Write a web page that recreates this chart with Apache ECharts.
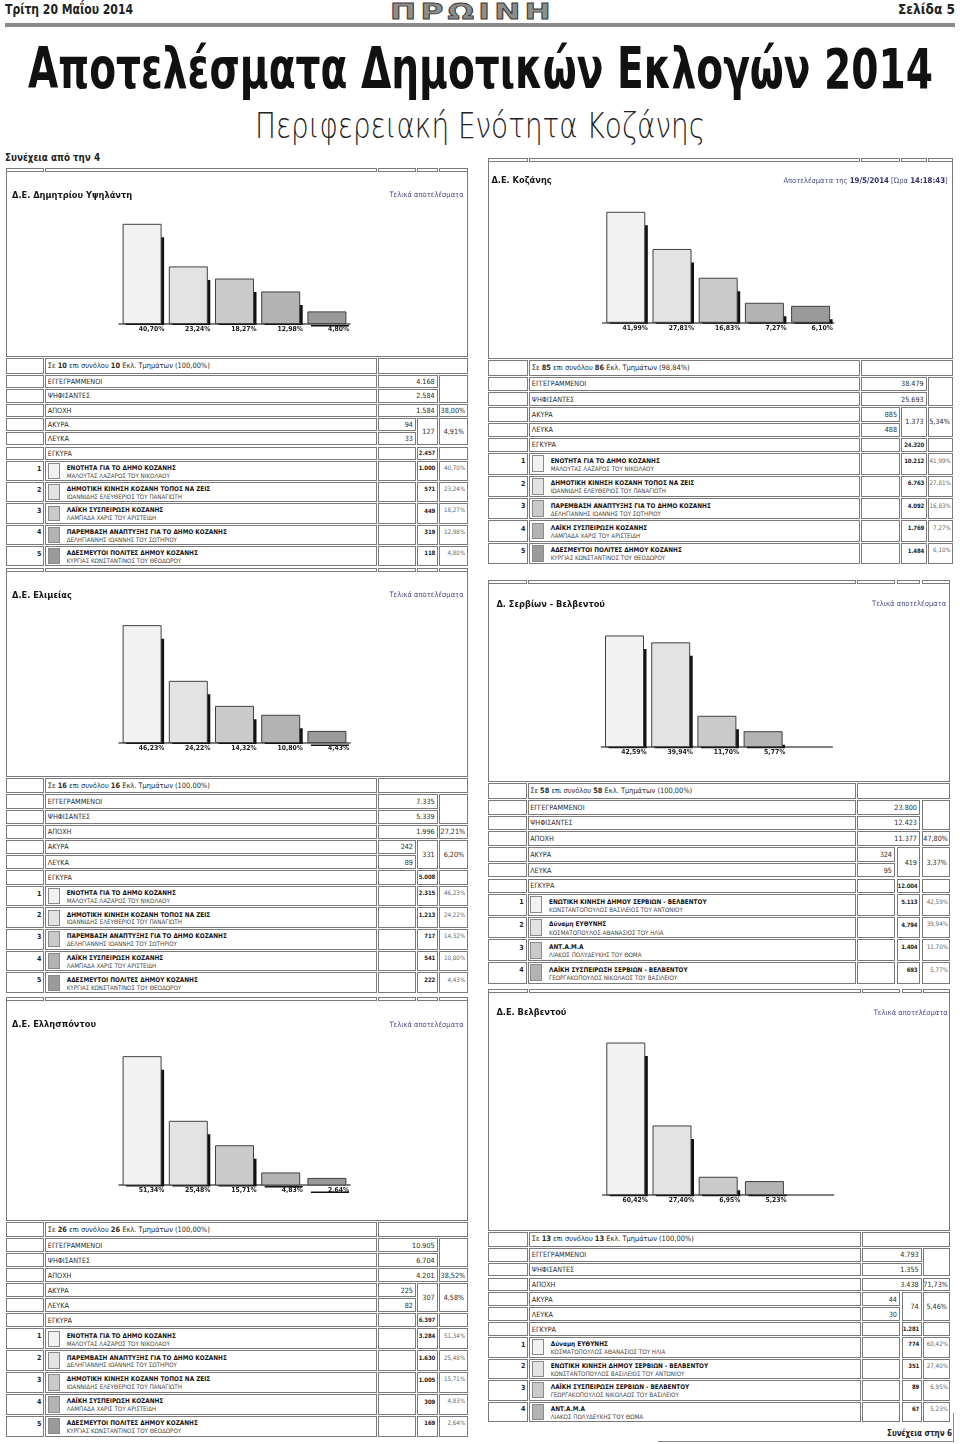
<!DOCTYPE html>
<html><head><meta charset="utf-8">
<script src="https://cdn.jsdelivr.net/npm/echarts@6/dist/echarts.min.js"></script>
<style>
html,body{margin:0;padding:0;background:#fff;}
body{width:960px;height:1444px;position:relative;overflow:hidden;font-family:'DejaVu Sans Condensed','DejaVu Sans',sans-serif;color:#2a2a2a;}
</style></head><body>
<script>
// ================= DATA =================
// Δ.Ε. Δημητρίου Υψηλάντη
const ypsParties = ['ΕΝΟΤΗΤΑ ΓΙΑ ΤΟ ΔΗΜΟ ΚΟΖΑΝΗΣ','ΔΗΜΟΤΙΚΗ ΚΙΝΗΣΗ ΚΟΖΑΝΗ ΤΟΠΟΣ ΝΑ ΖΕΙΣ','ΛΑΪΚΗ ΣΥΣΠΕΙΡΩΣΗ ΚΟΖΑΝΗΣ','ΠΑΡΕΜΒΑΣΗ ΑΝΑΠΤΥΞΗΣ ΓΙΑ ΤΟ ΔΗΜΟ ΚΟΖΑΝΗΣ','ΑΔΕΣΜΕΥΤΟΙ ΠΟΛΙΤΕΣ ΔΗΜΟΥ ΚΟΖΑΝΗΣ'];
const ypsLeaders = ['ΜΑΛΟΥΤΑΣ ΛΑΖΑΡΟΣ ΤΟΥ ΝΙΚΟΛΑΟΥ','ΙΩΑΝΝΙΔΗΣ ΕΛΕΥΘΕΡΙΟΣ ΤΟΥ ΠΑΝΑΓΙΩΤΗ','ΛΑΜΠΑΔΑ ΧΑΡΙΣ ΤΟΥ ΑΡΙΣΤΕΙΔΗ','ΔΕΛΗΓΙΑΝΝΗΣ ΙΩΑΝΝΗΣ ΤΟΥ ΣΩΤΗΡΙΟΥ','ΚΥΡΓΙΑΣ ΚΩΝΣΤΑΝΤΙΝΟΣ ΤΟΥ ΘΕΟΔΩΡΟΥ'];
const ypsVotes = [1000, 571, 449, 319, 118];
const ypsPct = [40.70, 23.24, 18.27, 12.98, 4.80];
const ypsStations = [10, 10, 100.00];
const ypsTurnout = [4168, 2584, 1584, 38.00];      // εγγεγραμμένοι, ψηφίσαντες, αποχή, αποχή %
const ypsSpoilt = [94, 33, 127, 4.91, 2457];       // άκυρα, λευκά, σύνολο, %, έγκυρα

// Δ.Ε. Κοζάνης
const kozParties = ['ΕΝΟΤΗΤΑ ΓΙΑ ΤΟ ΔΗΜΟ ΚΟΖΑΝΗΣ','ΔΗΜΟΤΙΚΗ ΚΙΝΗΣΗ ΚΟΖΑΝΗ ΤΟΠΟΣ ΝΑ ΖΕΙΣ','ΠΑΡΕΜΒΑΣΗ ΑΝΑΠΤΥΞΗΣ ΓΙΑ ΤΟ ΔΗΜΟ ΚΟΖΑΝΗΣ','ΛΑΪΚΗ ΣΥΣΠΕΙΡΩΣΗ ΚΟΖΑΝΗΣ','ΑΔΕΣΜΕΥΤΟΙ ΠΟΛΙΤΕΣ ΔΗΜΟΥ ΚΟΖΑΝΗΣ'];
const kozLeaders = ['ΜΑΛΟΥΤΑΣ ΛΑΖΑΡΟΣ ΤΟΥ ΝΙΚΟΛΑΟΥ','ΙΩΑΝΝΙΔΗΣ ΕΛΕΥΘΕΡΙΟΣ ΤΟΥ ΠΑΝΑΓΙΩΤΗ','ΔΕΛΗΓΙΑΝΝΗΣ ΙΩΑΝΝΗΣ ΤΟΥ ΣΩΤΗΡΙΟΥ','ΛΑΜΠΑΔΑ ΧΑΡΙΣ ΤΟΥ ΑΡΙΣΤΕΙΔΗ','ΚΥΡΓΙΑΣ ΚΩΝΣΤΑΝΤΙΝΟΣ ΤΟΥ ΘΕΟΔΩΡΟΥ'];
const kozVotes = [10212, 6763, 4092, 1769, 1484];
const kozPct = [41.99, 27.81, 16.83, 7.27, 6.10];
const kozStations = [85, 86, 98.84];
const kozTurnout = [38479, 25693, null, null];
const kozSpoilt = [885, 488, 1373, 5.34, 24320];

// Δ.Ε. Ελιμείας
const elmParties = ['ΕΝΟΤΗΤΑ ΓΙΑ ΤΟ ΔΗΜΟ ΚΟΖΑΝΗΣ','ΔΗΜΟΤΙΚΗ ΚΙΝΗΣΗ ΚΟΖΑΝΗ ΤΟΠΟΣ ΝΑ ΖΕΙΣ','ΠΑΡΕΜΒΑΣΗ ΑΝΑΠΤΥΞΗΣ ΓΙΑ ΤΟ ΔΗΜΟ ΚΟΖΑΝΗΣ','ΛΑΪΚΗ ΣΥΣΠΕΙΡΩΣΗ ΚΟΖΑΝΗΣ','ΑΔΕΣΜΕΥΤΟΙ ΠΟΛΙΤΕΣ ΔΗΜΟΥ ΚΟΖΑΝΗΣ'];
const elmLeaders = ['ΜΑΛΟΥΤΑΣ ΛΑΖΑΡΟΣ ΤΟΥ ΝΙΚΟΛΑΟΥ','ΙΩΑΝΝΙΔΗΣ ΕΛΕΥΘΕΡΙΟΣ ΤΟΥ ΠΑΝΑΓΙΩΤΗ','ΔΕΛΗΓΙΑΝΝΗΣ ΙΩΑΝΝΗΣ ΤΟΥ ΣΩΤΗΡΙΟΥ','ΛΑΜΠΑΔΑ ΧΑΡΙΣ ΤΟΥ ΑΡΙΣΤΕΙΔΗ','ΚΥΡΓΙΑΣ ΚΩΝΣΤΑΝΤΙΝΟΣ ΤΟΥ ΘΕΟΔΩΡΟΥ'];
const elmVotes = [2315, 1213, 717, 541, 222];
const elmPct = [46.23, 24.22, 14.32, 10.80, 4.43];
const elmStations = [16, 16, 100.00];
const elmTurnout = [7335, 5339, 1996, 27.21];
const elmSpoilt = [242, 89, 331, 6.20, 5008];

// Δ. Σερβίων - Βελβεντού
const srvParties = ['ΕΝΩΤΙΚΗ ΚΙΝΗΣΗ ΔΗΜΟΥ ΣΕΡΒΙΩΝ - ΒΕΛΒΕΝΤΟΥ','Δύναμη ΕΥΘΥΝΗΣ','ΑΝΤ.Α.Μ.Α','ΛΑΪΚΗ ΣΥΣΠΕΙΡΩΣΗ ΣΕΡΒΙΩΝ - ΒΕΛΒΕΝΤΟΥ'];
const srvLeaders = ['ΚΩΝΣΤΑΝΤΟΠΟΥΛΟΣ ΒΑΣΙΛΕΙΟΣ ΤΟΥ ΑΝΤΩΝΙΟΥ','ΚΟΣΜΑΤΟΠΟΥΛΟΣ ΑΘΑΝΑΣΙΟΣ ΤΟΥ ΗΛΙΑ','ΛΙΑΚΟΣ ΠΟΛΥΔΕΥΚΗΣ ΤΟΥ ΘΩΜΑ','ΓΕΩΡΓΑΚΟΠΟΥΛΟΣ ΝΙΚΟΛΑΟΣ ΤΟΥ ΒΑΣΙΛΕΙΟΥ'];
const srvVotes = [5113, 4794, 1404, 693];
const srvPct = [42.59, 39.94, 11.70, 5.77];
const srvStations = [58, 58, 100.00];
const srvTurnout = [23800, 12423, 11377, 47.80];
const srvSpoilt = [324, 95, 419, 3.37, 12004];

// Δ.Ε. Ελλησπόντου
const elsParties = ['ΕΝΟΤΗΤΑ ΓΙΑ ΤΟ ΔΗΜΟ ΚΟΖΑΝΗΣ','ΠΑΡΕΜΒΑΣΗ ΑΝΑΠΤΥΞΗΣ ΓΙΑ ΤΟ ΔΗΜΟ ΚΟΖΑΝΗΣ','ΔΗΜΟΤΙΚΗ ΚΙΝΗΣΗ ΚΟΖΑΝΗ ΤΟΠΟΣ ΝΑ ΖΕΙΣ','ΛΑΪΚΗ ΣΥΣΠΕΙΡΩΣΗ ΚΟΖΑΝΗΣ','ΑΔΕΣΜΕΥΤΟΙ ΠΟΛΙΤΕΣ ΔΗΜΟΥ ΚΟΖΑΝΗΣ'];
const elsLeaders = ['ΜΑΛΟΥΤΑΣ ΛΑΖΑΡΟΣ ΤΟΥ ΝΙΚΟΛΑΟΥ','ΔΕΛΗΓΙΑΝΝΗΣ ΙΩΑΝΝΗΣ ΤΟΥ ΣΩΤΗΡΙΟΥ','ΙΩΑΝΝΙΔΗΣ ΕΛΕΥΘΕΡΙΟΣ ΤΟΥ ΠΑΝΑΓΙΩΤΗ','ΛΑΜΠΑΔΑ ΧΑΡΙΣ ΤΟΥ ΑΡΙΣΤΕΙΔΗ','ΚΥΡΓΙΑΣ ΚΩΝΣΤΑΝΤΙΝΟΣ ΤΟΥ ΘΕΟΔΩΡΟΥ'];
const elsVotes = [3284, 1630, 1005, 309, 169];
const elsPct = [51.34, 25.48, 15.71, 4.83, 2.64];
const elsStations = [26, 26, 100.00];
const elsTurnout = [10905, 6704, 4201, 38.52];
const elsSpoilt = [225, 82, 307, 4.58, 6397];

// Δ.Ε. Βελβεντού
const vlvParties = ['Δύναμη ΕΥΘΥΝΗΣ','ΕΝΩΤΙΚΗ ΚΙΝΗΣΗ ΔΗΜΟΥ ΣΕΡΒΙΩΝ - ΒΕΛΒΕΝΤΟΥ','ΛΑΪΚΗ ΣΥΣΠΕΙΡΩΣΗ ΣΕΡΒΙΩΝ - ΒΕΛΒΕΝΤΟΥ','ΑΝΤ.Α.Μ.Α'];
const vlvLeaders = ['ΚΟΣΜΑΤΟΠΟΥΛΟΣ ΑΘΑΝΑΣΙΟΣ ΤΟΥ ΗΛΙΑ','ΚΩΝΣΤΑΝΤΟΠΟΥΛΟΣ ΒΑΣΙΛΕΙΟΣ ΤΟΥ ΑΝΤΩΝΙΟΥ','ΓΕΩΡΓΑΚΟΠΟΥΛΟΣ ΝΙΚΟΛΑΟΣ ΤΟΥ ΒΑΣΙΛΕΙΟΥ','ΛΙΑΚΟΣ ΠΟΛΥΔΕΥΚΗΣ ΤΟΥ ΘΩΜΑ'];
const vlvVotes = [774, 351, 89, 67];
const vlvPct = [60.42, 27.40, 6.95, 5.23];
const vlvStations = [13, 13, 100.00];
const vlvTurnout = [4793, 1355, 3438, 71.73];
const vlvSpoilt = [44, 30, 74, 5.46, 1281];

const rowLabels = ['ΕΓΓΕΓΡΑΜΜΕΝΟΙ','ΨΗΦΙΣΑΝΤΕΣ','ΑΠΟΧΗ','ΑΚΥΡΑ','ΛΕΥΚΑ','ΕΓΚΥΡΑ'];
const noteFinal = 'Τελικά αποτελέσματα';
const noteKozani = ['Αποτελέσματα της ', '19/5/2014', ' [Ώρα ', '14:18:43', ']'];

// ================= LAYOUT / STYLE =================
const FONT = "'DejaVu Sans Condensed','DejaVu Sans',sans-serif";
const NARROW = "'Liberation Sans Narrow','DejaVu Sans Condensed',sans-serif";
const RANK_COLORS = ['#f2f2f2','#e3e3e3','#cacaca','#b3b3b3','#9a9a9a'];
const BORDER = '#7a7a7a';
const COLS_L = [[5.7,44.3],[45.3,376.7],[377.7,416],[417,437.7],[438.7,467.7]];
const COLS_B = [[488.3,528.3],[529.3,860],[861,900],[901,926.7],[927.7,953.3]];
const COLS_D = [[488.3,526.7],[527.7,855.7],[856.7,895],[896.7,920],[921.7,950.5]];
const COLS_F = [[488.3,528.3],[529.3,861],[861.7,900],[901.7,921.7],[922.7,950.5]];

const panels = [
  {name:'Δ.Ε. Δημητρίου Υψηλάντη', note:noteFinal, parties:ypsParties, leaders:ypsLeaders, votes:ypsVotes, pct:ypsPct, stations:ypsStations, turnout:ypsTurnout, spoilt:ypsSpoilt,
   lay:{cols:COLS_L, sliver:171.7, tableTop:358.3, h0:15.7, hs:13.3, hp:20.3, band:118.7, base:323.3, ppp:2.44, titleX:11.7, titleY:195, noteR:463.3}},
  {name:'Δ.Ε. Κοζάνης', note:noteKozani, parties:kozParties, leaders:kozLeaders, votes:kozVotes, pct:kozPct, stations:kozStations, turnout:kozTurnout, spoilt:kozSpoilt,
   lay:{cols:COLS_B, sliver:161.7, tableTop:360, h0:15.7, hs:14.3, hp:21.4, band:603, base:322, ppp:2.62, titleX:491.7, titleY:180.7, noteR:948}},
  {name:'Δ.Ε. Ελιμείας', note:noteFinal, parties:elmParties, leaders:elmLeaders, votes:elmVotes, pct:elmPct, stations:elmStations, turnout:elmTurnout, spoilt:elmSpoilt,
   lay:{cols:COLS_L, sliver:571.7, tableTop:777.7, h0:15.7, hs:14.2, hp:20.7, band:118.7, base:742.3, ppp:2.53, titleX:11.7, titleY:595, noteR:463.3}},
  {name:'Δ. Σερβίων - Βελβεντού', note:noteFinal, parties:srvParties, leaders:srvLeaders, votes:srvVotes, pct:srvPct, stations:srvStations, turnout:srvTurnout, spoilt:srvSpoilt,
   lay:{cols:COLS_D, sliver:584, tableTop:783.3, h0:15.7, hs:14.7, hp:21.6, band:601.7, base:746.7, ppp:2.6, titleX:496.7, titleY:604.3, noteR:946.7}},
  {name:'Δ.Ε. Ελλησπόντου', note:noteFinal, parties:elsParties, leaders:elsLeaders, votes:elsVotes, pct:elsPct, stations:elsStations, turnout:elsTurnout, spoilt:elsSpoilt,
   lay:{cols:COLS_L, sliver:1001, tableTop:1221.7, h0:15.6, hs:14, hp:20.9, band:118.7, base:1185, ppp:2.5, titleX:11.7, titleY:1025, noteR:463.3}},
  {name:'Δ.Ε. Βελβεντού', note:noteFinal, parties:vlvParties, leaders:vlvLeaders, votes:vlvVotes, pct:vlvPct, stations:vlvStations, turnout:vlvTurnout, spoilt:vlvSpoilt,
   lay:{cols:COLS_F, sliver:993.3, tableTop:1231.7, h0:15, hs:13.9, hp:20.5, band:603, base:1195, ppp:2.51, titleX:496.7, titleY:1012.7, noteR:948.3}}
];

// ================= HELPERS =================
function el(css, html){ const d=document.createElement('div'); d.style.cssText=css; if(html!=null) d.innerHTML=html; document.body.appendChild(d); return d; }
function fmtInt(n){ return String(n).replace(/\B(?=(\d{3})+(?!\d))/g,'.'); }
function fmtPct(v){ return v.toFixed(2).replace('.',',') + '%'; }
function fitText(text, x, top, w, font, size, extra){
  const d = el(`position:absolute;left:${x}px;top:${top}px;white-space:nowrap;font:${font};font-size:${size}px;line-height:${size}px;transform-origin:0 0;${extra||''}`, text);
  const nat = d.getBoundingClientRect().width;
  d.style.transform = `scaleX(${w/nat})`;
  return d;
}

// ================= PAGE HEADER =================
fitText('Τρίτη 20 Μαΐου 2014', 5, 2, 128, `bold 14px ${NARROW}`, 14, 'color:#222;');
fitText('Σελίδα 5', 898, 2, 57, `bold 14px ${NARROW}`, 14, 'color:#222;');
fitText('ΠΡΩΙΝΗ', 390, 0.5, 165, `bold 22px 'DejaVu Sans',sans-serif`, 22, 'color:#8e8e8e;-webkit-text-stroke:0.8px #3a3a3a;letter-spacing:3px;');
el('position:absolute;left:5px;top:23px;width:950px;height:4px;background:#8a8a8a;');
fitText('Αποτελέσματα Δημοτικών Εκλογών 2014', 28, 40.6, 905, `bold 56px ${NARROW}`, 56, 'color:#111;');
fitText('Περιφερειακή Ενότητα Κοζάνης', 255, 107.5, 450, `200 36px 'DejaVu Sans',sans-serif`, 36, 'color:#222;');
fitText('Συνέχεια από την 4', 5, 151.7, 95, `bold 11px ${NARROW}`, 11, 'color:#222;');
fitText('Συνέχεια στην 6', 887, 1428, 65, `bold 9.5px ${FONT}`, 9.5, 'color:#222;');
el('position:absolute;left:658px;top:1441px;width:295px;height:1px;background:#888;');
el('position:absolute;left:953px;top:1413px;width:1px;height:29px;background:#888;');

// ================= TABLES =================
function T(s, o){
  o = o || {};
  const right = o.al === 'r';
  return `<div style="position:absolute;left:0;right:0;top:0;bottom:0;display:flex;align-items:center;justify-content:${right?'flex-end':'flex-start'};padding:0 ${right?(o.pad!=null?o.pad:2):0}px 0 ${right?0:(o.pad!=null?o.pad:1.5)}px;font:${o.w||'normal'} ${o.sz||7.2}px/1 ${FONT};color:${o.c||'#2b2b2b'};white-space:nowrap;${o.ls?('letter-spacing:'+o.ls+'px;'):''}"><span>${s}</span></div>`;
}
function buildTable(p){
  const L=p.lay, C=L.cols;
  const hasAbst = p.turnout[2] != null;
  const rows=[]; let y=L.tableTop;
  const add=h=>{ rows.push({t:y,h:h}); y+=h+1; return rows.length-1; };
  const rHead=add(L.h0), rReg=add(L.hs), rVot=add(L.hs), rAbs=hasAbst?add(L.hs):-1, rInv=add(L.hs), rBl=add(L.hs), rVal=add(L.hs);
  const rP = p.pct.map(()=>add(L.hp));
  function cell(c0,c1,r0,r1,inner){
    const x=C[c0][0], w=C[c1][1]-x, t=rows[r0].t, h=rows[r1].t+rows[r1].h-t;
    return el(`position:absolute;box-sizing:border-box;left:${x}px;top:${t}px;width:${w}px;height:${h}px;border:1px solid ${BORDER};background:#fff;`, inner||'');
  }
  const st=p.stations, tu=p.turnout, sp=p.spoilt;
  // header row
  cell(0,0,rHead,rHead);
  cell(1,1,rHead,rHead, T(`Σε <b>${st[0]}</b> επι συνόλου <b>${st[1]}</b> Εκλ. Τμημάτων (${fmtPct(st[2])})`, {sz:7.4}));
  cell(2,4,rHead,rHead);
  // registered / voters
  cell(0,0,rReg,rReg); cell(1,1,rReg,rReg, T(rowLabels[0]));
  cell(2,3,rReg,rReg, T(fmtInt(tu[0]),{al:'r'}));
  cell(0,0,rVot,rVot); cell(1,1,rVot,rVot, T(rowLabels[1]));
  cell(2,3,rVot,rVot, T(fmtInt(tu[1]),{al:'r'}));
  cell(4,4,rReg,rVot);
  if(hasAbst){
    cell(0,0,rAbs,rAbs); cell(1,1,rAbs,rAbs, T(rowLabels[2]));
    cell(2,3,rAbs,rAbs, T(fmtInt(tu[2]),{al:'r'}));
    cell(4,4,rAbs,rAbs, T(fmtPct(tu[3]),{al:'r',pad:1.5}));
  }
  cell(0,0,rInv,rInv); cell(1,1,rInv,rInv, T(rowLabels[3]));
  cell(2,2,rInv,rInv, T(fmtInt(sp[0]),{al:'r'}));
  cell(0,0,rBl,rBl); cell(1,1,rBl,rBl, T(rowLabels[4]));
  cell(2,2,rBl,rBl, T(fmtInt(sp[1]),{al:'r'}));
  cell(3,3,rInv,rBl, T(fmtInt(sp[2]),{al:'r'}));
  cell(4,4,rInv,rBl, T(fmtPct(sp[3]),{al:'r',pad:2.5}));
  cell(0,0,rVal,rVal); cell(1,1,rVal,rVal, T(rowLabels[5]));
  cell(2,2,rVal,rVal); cell(3,3,rVal,rVal, T(fmtInt(sp[4]),{al:'r',w:'bold',sz:6,pad:1.5,ls:-0.15})); cell(4,4,rVal,rVal);
  // party rows
  p.parties.forEach((name,i)=>{
    const r=rP[i], h=rows[r].h, ln1=h*0.36, ln2=h*0.74;
    cell(0,0,r,r, `<div style="position:absolute;right:2px;top:${ln1-3.5}px;font:bold 7px/1 ${FONT};color:#222;">${i+1}</div>`);
    cell(1,1,r,r,
      `<div style="position:absolute;left:1.4px;top:1.3px;width:12.3px;height:${h-4.6}px;box-sizing:border-box;border:1px solid #8a8a8a;background:${RANK_COLORS[i]};"></div>`+
      `<div style="position:absolute;left:20.4px;top:${ln1-4.2}px;font:bold 6.4px/1 ${FONT};color:#151515;white-space:nowrap;">${name}</div>`+
      `<div style="position:absolute;left:20.4px;top:${ln2-4.2}px;font:normal 6.2px/1 ${FONT};color:#444;white-space:nowrap;">${p.leaders[i]}</div>`);
    cell(2,2,r,r);
    cell(3,3,r,r, `<div style="position:absolute;right:1.5px;top:${ln1-4}px;font:bold 6px/1 ${FONT};letter-spacing:-0.15px;color:#1a1a1a;">${fmtInt(p.votes[i])}</div>`);
    cell(4,4,r,r, `<div style="position:absolute;right:1.5px;top:${ln1-4.2}px;font:normal 6.2px/1 ${FONT};color:#666;">${fmtPct(p.pct[i])}</div>`);
  });
}

// ================= CHARTS =================
function buildChart(p){
  const L=p.lay, C=L.cols;
  const left=C[0][0], right=C[4][1];
  // frame of chart box
  el(`position:absolute;box-sizing:border-box;left:${left}px;top:${L.sliver}px;width:${right-left}px;height:${L.tableTop-1-L.sliver}px;border:1px solid ${BORDER};border-top:none;`);
  // thin cut row above the box
  C.forEach(c=>el(`position:absolute;box-sizing:border-box;left:${c[0]}px;top:${L.sliver-4}px;width:${c[1]-c[0]}px;height:4px;border:1px solid ${BORDER};`));
  const x=left+1, y=L.sliver+1, w=right-left-2, h=L.tableTop-3-L.sliver;
  const div=el(`position:absolute;left:${x}px;top:${y}px;width:${w}px;height:${h}px;`);
  const chart=echarts.init(div,null,{renderer:'canvas'});
  const gTop=28, gH=L.base-y-gTop;
  let noteText, noteRich;
  if(Array.isArray(p.note)){
    noteText = `{a|${p.note[0]}}{b|${p.note[1]}}{a|${p.note[2]}}{b|${p.note[3]}}{a|${p.note[4]}}`;
    noteRich = {a:{fontSize:7.5,fontFamily:FONT,color:'#4d4d87'}, b:{fontSize:7.8,fontFamily:FONT,fontWeight:'bold',color:'#30306a'}};
  } else { noteText = p.note; noteRich = undefined; }
  chart.setOption({
    animation:false,
    title:[
      {text:p.name, left:L.titleX-x, top:L.titleY-y-4.6, padding:0,
       textStyle:{fontFamily:FONT, fontSize:9.2, fontWeight:'bold', color:'#161616'}},
      {text:noteText, right:(x+w)-L.noteR, top:L.titleY-y-3.8, padding:0,
       textStyle:{fontFamily:FONT, fontSize:7.5, fontWeight:'normal', color:'#4d4d87', rich:noteRich}}
    ],
    grid:{left:L.band-x, top:gTop, width:46.2*5, height:gH},
    xAxis:{type:'value', min:-0.5, max:4.5, axisLine:{show:true, onZero:false, lineStyle:{color:'#555', width:1.5}},
           axisTick:{show:false}, axisLabel:{show:false}, splitLine:{show:false}},
    yAxis:{type:'value', min:0, max:gH/L.ppp, show:false, splitLine:{show:false}},
    series:[{
      type:'custom', clip:false,
      data:p.pct.map((v,i)=>[i,v]),
      renderItem:(params, api)=>{
        const i=api.value(0), v=api.value(1);
        const b=api.coord([i,0]), t=api.coord([i,v]);
        const band=api.size([1,0])[0];
        const bw=band*38/46.2, x0=b[0]-band/2+band*4.1/46.2;
        const bh=b[1]-t[1];
        return {type:'group', children:[
          {type:'rect', shape:{x:x0+3, y:t[1]+13, width:bw, height:Math.max(0,bh-13)+1.5}, style:{fill:'#111'}},
          {type:'rect', shape:{x:x0, y:t[1], width:bw, height:bh}, style:{fill:RANK_COLORS[i], stroke:'#404040', lineWidth:1}},
          {type:'text', style:{text:fmtPct(v), x:x0+bw+3.2, y:b[1]+2.2, align:'right', textAlign:'right', verticalAlign:'top', textVerticalAlign:'top',
            font:`bold 6.8px ${FONT}`, fill:'#1a1a1a'}}
        ]};
      }
    }]
  });
}

panels.forEach(p=>{ buildChart(p); buildTable(p); });
</script>
</body></html>
